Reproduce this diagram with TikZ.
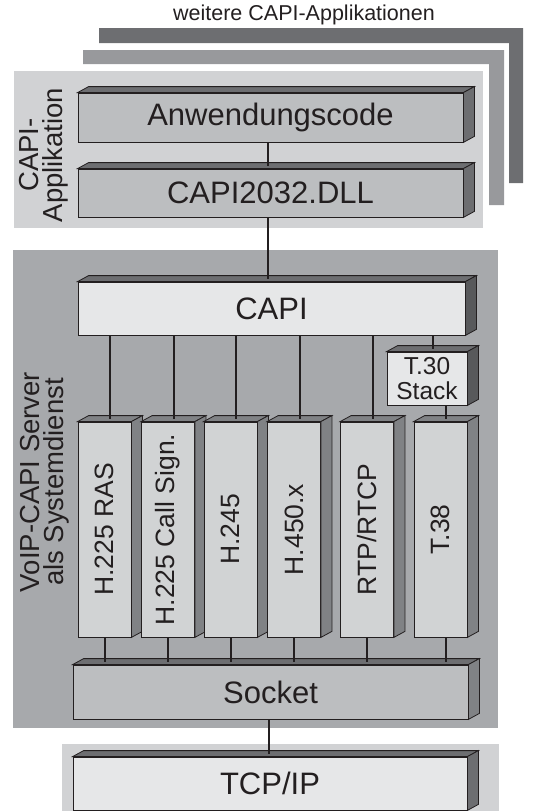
\documentclass[tikz,border=0pt]{standalone}
\usepackage{fontspec}
\setmainfont{Liberation Sans}
\usetikzlibrary{positioning}
\definecolor{ink}{HTML}{231F20}
\definecolor{panellight}{HTML}{D1D2D4}
\definecolor{panelvoip}{HTML}{A7A9AC}
\definecolor{barmid}{HTML}{98999C}
\definecolor{bardark}{HTML}{6D6E71}
\definecolor{frontmid}{HTML}{BCBEC0}
\definecolor{frontlight}{HTML}{E6E7E8}
\definecolor{frontproto}{HTML}{D1D3D4}
\definecolor{topdark}{HTML}{6D6E71}
\definecolor{sidedark}{HTML}{58595B}
\definecolor{sideproto}{HTML}{808285}
\tikzset{block/.style = {draw = ink, line width = 0.8pt, inner sep = 0, text = ink, font = \fontsize{31}{31}\selectfont}}
\tikzset{proto/.style = {block, fill = frontproto, minimum width = 53, minimum height = 215, font = \fontsize{26.5}{26.5}\selectfont}}
\tikzset{sidetext/.style = {rotate = 90, align = center, text = ink, font = \fontsize{27.5}{23.5}\selectfont}}
\tikzset{conn/.style = {draw = ink, line width = 2pt}}
\newcommand{\quader}[3]{%
  \filldraw [draw = ink, line width = 0.8pt, fill = #2] (#1.north west) -- ++(11,-6) -- ([shift={(11,-6)}]#1.north east) -- (#1.north east) -- cycle;
  \filldraw [draw = ink, line width = 0.8pt, fill = #3] (#1.north east) -- ++(11,-6) -- ([shift={(11,-6)}]#1.south east) -- (#1.south east) -- cycle;
  \coordinate (#1-top) at ([shift={(5.5,-3)}]#1.north);}
\begin{document}
\begin{tikzpicture}[x=1pt, y=-1pt]
      \useasboundingbox (0,0) rectangle (538,811);

      \node [text = ink, font = \fontsize{21.5}{21.5}\selectfont] (weitere) at (304,15) {weitere CAPI-Applikationen};
      \fill [bardark] (99,28) -- (523,28) -- (523,183) -- (509,183) -- (509,43) -- (99,43) -- cycle;
      \fill [barmid] (83,50) -- (504,50) -- (504,205) -- (489,205) -- (489,64) -- (83,64) -- cycle;
      \fill [panellight] (14,71) rectangle (483,228);
      \fill [panelvoip] (13,250) rectangle (498,728);
      \fill [panellight] (62,744) rectangle (499,811);

      \node [sidetext] (appllabel) at (44,155) {CAPI-\\Applikation};
      \node [sidetext] (voiplabel) at (45,482) {VoIP-CAPI Server\\als Systemdienst};

      \node [block, fill = frontmid, minimum width = 385, minimum height = 49] (code) at (270.5,117.5) {Anwendungscode};
      \quader{code}{topdark}{bardark}
      \node [block, fill = frontmid, minimum width = 385, minimum height = 48] (dll) at (270.5,193) {CAPI2032.DLL};
      \quader{dll}{topdark}{bardark}

      \node [block, fill = frontlight, minimum width = 387, minimum height = 53] (capi) at (271.5,308.5) {CAPI};
      \quader{capi}{topdark}{sidedark}
      \node [block, fill = frontlight, minimum width = 80, minimum height = 53, align = center, font = \fontsize{24.5}{25}\selectfont] (tthirty) at (427,378.5) {T.30\\Stack};
      \quader{tthirty}{topdark}{sidedark}

      \node [proto] (ras) at (104.5,529.5) {\rotatebox{90}{H.225 RAS}};
      \quader{ras}{sideproto}{sideproto}
      \node [proto] (callsign) at (168,529.5) {\rotatebox{90}{H.225 Call Sign.}};
      \quader{callsign}{sideproto}{sideproto}
      \node [proto] (hzfuenf) at (230.5,529.5) {\rotatebox{90}{H.245}};
      \quader{hzfuenf}{sideproto}{sideproto}
      \node [proto] (hvier) at (294,529.5) {\rotatebox{90}{H.450.x}};
      \quader{hvier}{sideproto}{sideproto}
      \node [proto] (rtp) at (367,529.5) {\rotatebox{90}{RTP/RTCP}};
      \quader{rtp}{sideproto}{sideproto}
      \node [proto] (tacht) at (440.5,529.5) {\rotatebox{90}{T.38}};
      \quader{tacht}{sideproto}{sideproto}

      \node [block, fill = frontmid, minimum width = 395, minimum height = 54] (socket) at (270.5,692) {Socket};
      \quader{socket}{topdark}{sideproto}
      \node [block, fill = frontlight, minimum width = 394, minimum height = 53] (tcp) at (270,783.5) {TCP/IP};
      \quader{tcp}{topdark}{bardark}

      \draw [conn] ([xshift=-3]code.south) -- ([xshift=-3]code.south |- dll-top);
      \draw [conn] ([xshift=-3]dll.south) -- ([xshift=-3]dll.south |- capi-top);
      \draw [conn] (capi.south -| ras-top) -- (ras-top);
      \draw [conn] (capi.south -| callsign-top) -- (callsign-top);
      \draw [conn] (capi.south -| hzfuenf-top) -- (hzfuenf-top);
      \draw [conn] (capi.south -| hvier-top) -- (hvier-top);
      \draw [conn] (capi.south -| rtp-top) -- (rtp-top);
      \draw [conn] (capi.south -| tthirty-top) -- (tthirty-top);
      \draw [conn] (tthirty.south -| tacht-top) -- (tacht-top);

      \draw [conn] (ras.south) -- (ras.south |- socket-top);
      \draw [conn] (callsign.south) -- (callsign.south |- socket-top);
      \draw [conn] (hzfuenf.south) -- (hzfuenf.south |- socket-top);
      \draw [conn] (hvier.south) -- (hvier.south |- socket-top);
      \draw [conn] (rtp.south) -- (rtp.south |- socket-top);
      \draw [conn] (tacht.south -| tacht-top) -- (tacht-top |- socket-top);
      \draw [conn] ([xshift=-2]socket.south) -- ([xshift=-2]socket.south |- tcp-top);
    \end{tikzpicture}
\end{document}
